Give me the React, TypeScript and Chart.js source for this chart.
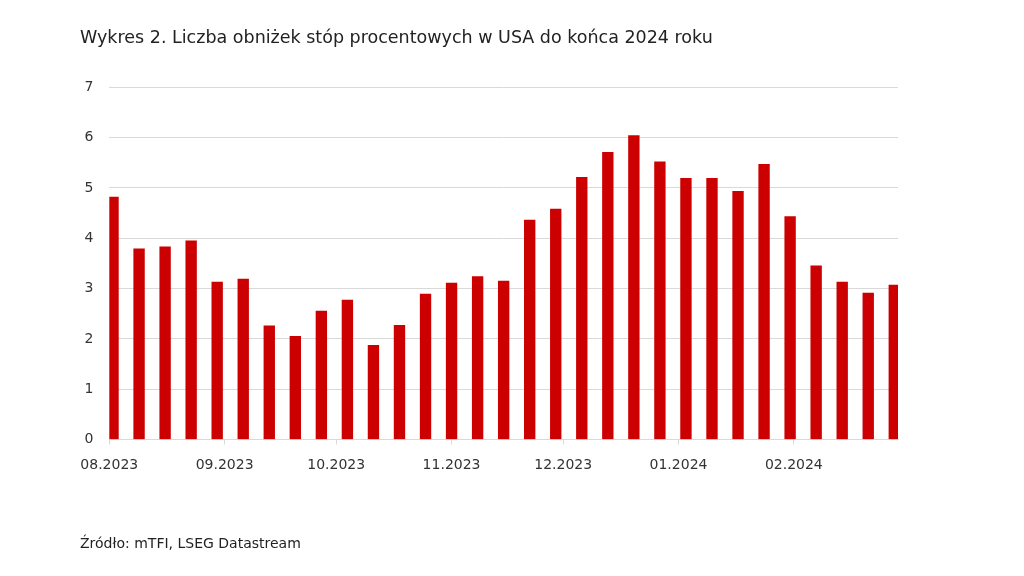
import React, { useEffect, useRef } from "react";
import { Chart, registerables } from "chart.js";

Chart.register(...registerables);

// Weekly observation dates (Wednesdays)
const dates: string[] = [
  "2023-08-02", "2023-08-09", "2023-08-16", "2023-08-23", "2023-08-30",
  "2023-09-06", "2023-09-13", "2023-09-20", "2023-09-27",
  "2023-10-04", "2023-10-11", "2023-10-18", "2023-10-25",
  "2023-11-01", "2023-11-08", "2023-11-15", "2023-11-22", "2023-11-29",
  "2023-12-06", "2023-12-13", "2023-12-20", "2023-12-27",
  "2024-01-03", "2024-01-10", "2024-01-17", "2024-01-24", "2024-01-31",
  "2024-02-07", "2024-02-14", "2024-02-21", "2024-02-28",
];

// Number of expected rate cuts (count)
const cuts: number[] = [
  4.82, 3.79, 3.83, 3.95, 3.13,
  3.19, 2.26, 2.05, 2.55,
  2.77, 1.87, 2.27, 2.89,
  3.11, 3.24, 3.15, 4.36, 4.58,
  5.21, 5.71, 6.04, 5.52,
  5.19, 5.19, 4.93, 5.47, 4.43,
  3.45, 3.13, 2.91, 3.07,
];

// Month tick positions and labels
const monthStarts: string[] = [
  "2023-08-01", "2023-09-01", "2023-10-01", "2023-11-01",
  "2023-12-01", "2024-01-01", "2024-02-01",
];
const monthLabels: string[] = [
  "08.2023", "09.2023", "10.2023", "11.2023", "12.2023", "01.2024", "02.2024",
];
const axisStart = "2023-08-01";
const axisEnd = "2024-02-29";

const yTicks: number[] = [0, 1, 2, 3, 4, 5, 6, 7];

const title = "Wykres 2. Liczba obniżek stóp procentowych w USA do końca 2024 roku";
const source = "Źródło: mTFI, LSEG Datastream";

const FONT = "'DejaVu Sans', sans-serif";

function dayOffset(s: string): number {
  const [y, m, d] = s.split("-").map(Number);
  const [y0, m0, d0] = axisStart.split("-").map(Number);
  return (Date.UTC(y, m - 1, d) - Date.UTC(y0, m0 - 1, d0)) / 86400000;
}

export default function App() {
  const ref = useRef<HTMLCanvasElement | null>(null);

  useEffect(() => {
    if (!ref.current) return;
    const tickValues = monthStarts.map(dayOffset);
    const chart = new Chart(ref.current, {
      type: "bar",
      data: {
        datasets: [
          {
            data: dates.map((d, i) => ({ x: dayOffset(d), y: cuts[i] })),
            backgroundColor: "#cc0000",
            borderWidth: 0,
            barThickness: 10.7,
          },
        ],
      },
      options: {
        animation: false,
        responsive: false,
        maintainAspectRatio: false,
        devicePixelRatio: 1,
        layout: {
          padding: { left: 69.3, right: 126, top: 87.3, bottom: 96.5 },
        },
        plugins: {
          legend: { display: false },
          tooltip: { enabled: false },
          title: { display: false },
        },
        scales: {
          x: {
            type: "linear",
            offset: false,
            min: 0,
            max: dayOffset(axisEnd),
            afterBuildTicks: (scale: any) => {
              scale.ticks = tickValues.map((v) => ({ value: v }));
            },
            afterFit: (scale: any) => {
              scale.height = 40;
            },
            grid: {
              display: true,
              offset: false,
              drawOnChartArea: false,
              drawTicks: true,
              tickLength: 5,
              color: "#d9d9d9",
            },
            border: { display: true, color: "#d9d9d9", width: 1 },
            ticks: {
              autoSkip: false,
              maxRotation: 0,
              minRotation: 0,
              padding: 12,
              color: "#333333",
              font: { family: FONT, size: 14 },
              callback: (value: any) => {
                const idx = tickValues.indexOf(Number(value));
                return idx >= 0 ? monthLabels[idx] : "";
              },
            },
          },
          y: {
            min: yTicks[0],
            max: yTicks[yTicks.length - 1],
            afterBuildTicks: (scale: any) => {
              scale.ticks = yTicks.map((v) => ({ value: v }));
            },
            afterFit: (scale: any) => {
              scale.width = 40;
            },
            grid: {
              color: "#d9d9d9",
              lineWidth: 1,
              drawTicks: false,
            },
            border: { display: false },
            ticks: {
              padding: 16,
              color: "#333333",
              font: { family: FONT, size: 14 },
            },
          },
        },
      },
    });
    return () => chart.destroy();
  }, []);

  return (
    <div
      style={{
        position: "absolute",
        left: 0,
        top: 0,
        width: 1024,
        height: 576,
        background: "#ffffff",
        overflow: "hidden",
      }}
    >
      <canvas
        ref={ref}
        width={1024}
        height={576}
        style={{ position: "absolute", left: 0, top: 0, width: 1024, height: 576 }}
      />
      <div
        style={{
          position: "absolute",
          left: 80,
          top: 28,
          fontFamily: FONT,
          fontSize: 17.5,
          lineHeight: "18px",
          color: "#222222",
          whiteSpace: "nowrap",
        }}
      >
        {title}
      </div>
      <div
        style={{
          position: "absolute",
          left: 80,
          top: 536,
          fontFamily: FONT,
          fontSize: 14,
          lineHeight: "14px",
          color: "#222222",
          whiteSpace: "nowrap",
        }}
      >
        {source}
      </div>
    </div>
  );
}
